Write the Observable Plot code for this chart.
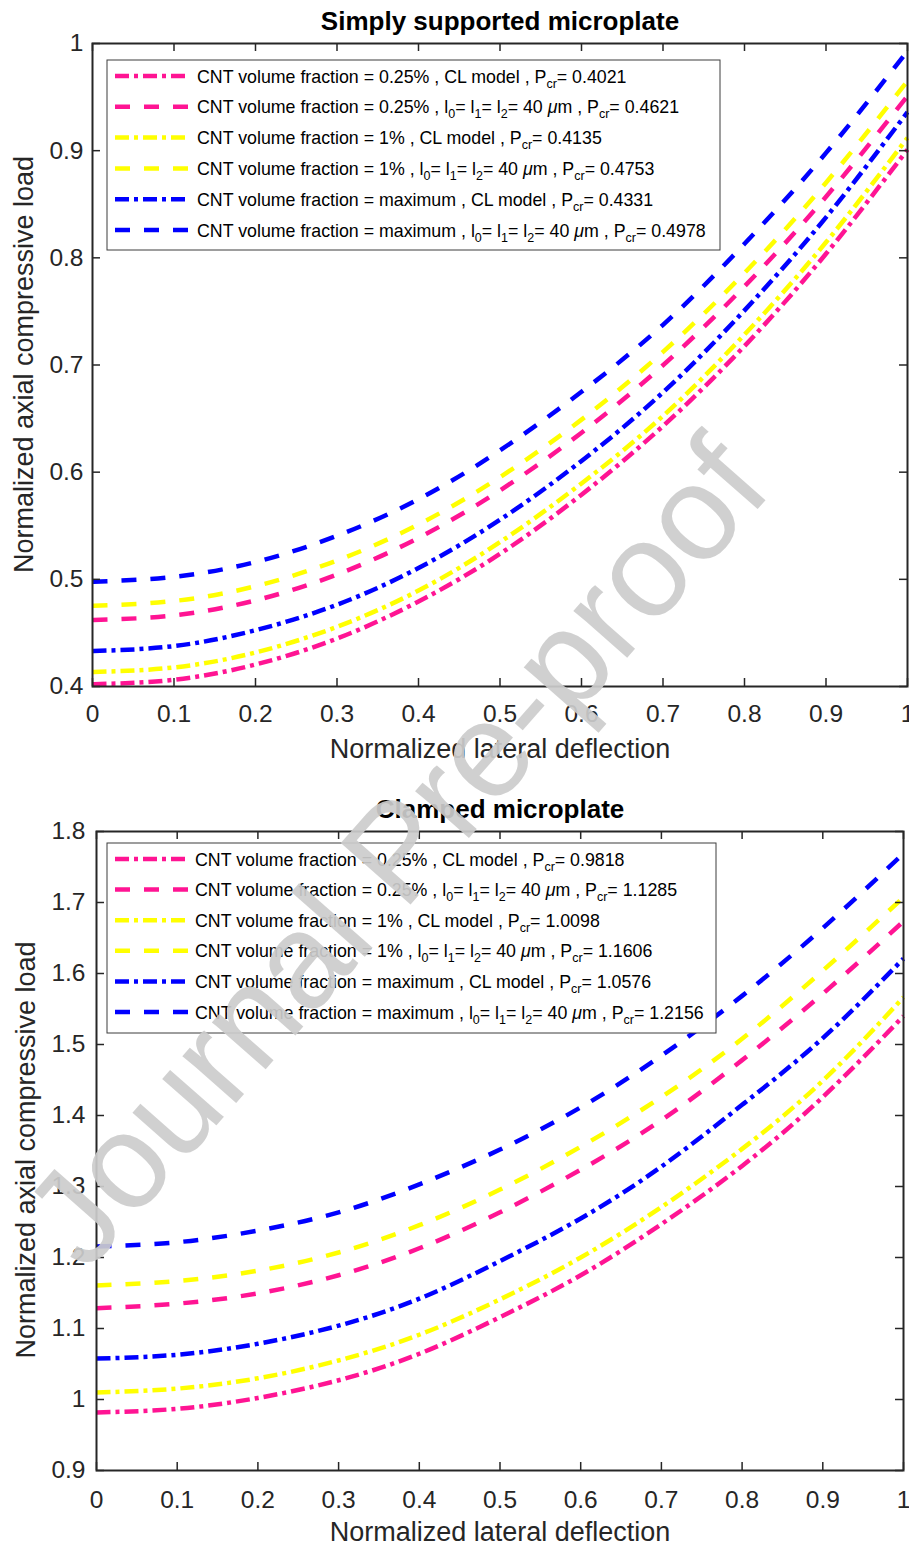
<!DOCTYPE html>
<html><head><meta charset="utf-8">
<script src="https://cdn.jsdelivr.net/npm/d3@7"></script>
<script src="https://cdn.jsdelivr.net/npm/@observablehq/plot@0.6"></script>
<style>
body{margin:0;background:#fff}
#wrap{position:relative;width:909px;height:1546px;overflow:hidden;background:#fff}
.plot{position:absolute;left:0}
#overlay{position:absolute;left:0;top:0}
</style></head><body><div id="wrap"></div>
<script>
// ---------- data ----------
const deflection = [0, 0.1, 0.2, 0.3, 0.4, 0.5, 0.6, 0.7, 0.8, 0.9, 1];
const xTickValues = [0, 0.1, 0.2, 0.3, 0.4, 0.5, 0.6, 0.7, 0.8, 0.9, 1];
const ssYTicks = [0.4, 0.5, 0.6, 0.7, 0.8, 0.9, 1];
const clYTicks = [0.9, 1, 1.1, 1.2, 1.3, 1.4, 1.5, 1.6, 1.7, 1.8];

// Simply supported microplate
const ss_025_CL  = [0.4021, 0.4063, 0.4205, 0.4447, 0.4793, 0.5238, 0.579, 0.643, 0.7177, 0.8038, 0.901];
const ss_025_MCS = [0.4621, 0.4663, 0.4804, 0.5045, 0.5387, 0.583, 0.6368, 0.6998, 0.7734, 0.857, 0.951];
const ss_1_CL    = [0.4135, 0.4178, 0.4317, 0.4557, 0.4895, 0.5347, 0.5895, 0.6525, 0.7284, 0.8145, 0.912];
const ss_1_MCS   = [0.4753, 0.4798, 0.4936, 0.5176, 0.5512, 0.5954, 0.649, 0.7122, 0.7859, 0.8701, 0.965];
const ss_max_CL  = [0.4331, 0.4377, 0.4525, 0.4763, 0.5106, 0.5556, 0.6105, 0.6745, 0.751, 0.8378, 0.936];
const ss_max_MCS = [0.4978, 0.5024, 0.5162, 0.5406, 0.5748, 0.6203, 0.675, 0.7375, 0.8131, 0.8979, 0.993];

// Clamped microplate
const cl_025_CL  = [0.9818, 0.9869, 1.0022, 1.0271, 1.0644, 1.116, 1.175, 1.247, 1.329, 1.426, 1.540];
const cl_025_MCS = [1.1285, 1.135, 1.1495, 1.175, 1.213, 1.2637, 1.3236, 1.3935, 1.478, 1.5715, 1.6735];
const cl_1_CL    = [1.0098, 1.0153, 1.0299, 1.0550, 1.0912, 1.141, 1.200, 1.271, 1.353, 1.449, 1.5665];
const cl_1_MCS   = [1.1606, 1.1668, 1.1814, 1.207, 1.2455, 1.2957, 1.356, 1.426, 1.508, 1.604, 1.7073];
const cl_max_CL  = [1.0576, 1.063, 1.0785, 1.104, 1.142, 1.195, 1.255, 1.328, 1.415, 1.509, 1.621];
const cl_max_MCS = [1.2156, 1.2215, 1.2379, 1.2635, 1.303, 1.352, 1.4115, 1.4843, 1.5685, 1.664, 1.769];

const fractions = ["0.25%", "0.25%", "1%", "1%", "maximum", "maximum"];
const models = ["CL", "MCS", "CL", "MCS", "CL", "MCS"];
const ssPcr = ["0.4021", "0.4621", "0.4135", "0.4753", "0.4331", "0.4978"];
const clPcr = ["0.9818", "1.1285", "1.0098", "1.1606", "1.0576", "1.2156"];
const seriesColors = ["#ff1493", "#ff1493", "#ffff00", "#ffff00", "#0000ff", "#0000ff"];

// ---------- styles ----------
const FONT = '"Liberation Sans", Arial, Helvetica, sans-serif';
const AXIS = "#262626";
const DASH = "15,14";
const DASHDOT = "14,5,4,5";
const LW = 4.5;

function fmt(d) { return String(Math.round(d * 10) / 10); }

function makePlot(cfg) {
  const frameW = cfg.width - cfg.ml - cfg.mr;
  const frameH = cfg.height - cfg.mt - cfg.mb;
  const tk = 8;
  const marks = [];
  cfg.values.forEach((vals, i) => {
    const rows = deflection.map((x, j) => ({x, y: vals[j]}));
    marks.push(Plot.line(rows, {
      x: "x", y: "y", stroke: seriesColors[i], strokeWidth: LW,
      strokeDasharray: models[i] === "CL" ? DASHDOT : DASH,
      curve: "natural", strokeLinecap: "butt", strokeLinejoin: "round"
    }));
  });
  marks.push(Plot.tickX(xTickValues, {x: d => d, insetTop: frameH - tk, stroke: AXIS, strokeWidth: 1.5}));
  marks.push(Plot.tickX(xTickValues, {x: d => d, insetBottom: frameH - tk, stroke: AXIS, strokeWidth: 1.5}));
  marks.push(Plot.tickY(cfg.yTicks, {y: d => d, insetRight: frameW - tk, stroke: AXIS, strokeWidth: 1.5}));
  marks.push(Plot.tickY(cfg.yTicks, {y: d => d, insetLeft: frameW - tk, stroke: AXIS, strokeWidth: 1.5}));
  marks.push(Plot.frame({stroke: AXIS, strokeWidth: 2}));
  marks.push(Plot.axisX({ticks: xTickValues, tickSize: 0, tickPadding: cfg.xPad, tickFormat: fmt, label: null, fill: AXIS}));
  marks.push(Plot.axisY({ticks: cfg.yTicks, tickSize: 0, tickPadding: cfg.yPad, tickFormat: fmt, label: null, fill: AXIS}));
  const svg = Plot.plot({
    width: cfg.width, height: cfg.height,
    marginLeft: cfg.ml, marginRight: cfg.mr, marginTop: cfg.mt, marginBottom: cfg.mb,
    x: {domain: [0, 1]}, y: {domain: cfg.yDomain},
    style: {fontFamily: FONT, fontSize: "24.5px", background: "white", color: AXIS, overflow: "visible"},
    marks
  });
  svg.classList.add("plot");
  svg.style.top = cfg.top + "px";
  return svg;
}

const wrap = document.getElementById("wrap");
wrap.appendChild(makePlot({
  top: 0, width: 909, height: 780, ml: 92, mr: 2, mt: 43, mb: 94,
  yDomain: [0.4, 1], yTicks: ssYTicks, xPad: 18, yPad: 9,
  values: [ss_025_CL, ss_025_MCS, ss_1_CL, ss_1_MCS, ss_max_CL, ss_max_MCS]
}));
wrap.appendChild(makePlot({
  top: 780, width: 909, height: 766, ml: 96, mr: 6, mt: 51, mb: 76,
  yDomain: [0.9, 1.8], yTicks: clYTicks, xPad: 20, yPad: 11,
  values: [cl_025_CL, cl_025_MCS, cl_1_CL, cl_1_MCS, cl_max_CL, cl_max_MCS]
}));

// ---------- overlay: titles, labels, legends, watermark ----------
const NS = "http://www.w3.org/2000/svg";
const ov = document.createElementNS(NS, "svg");
ov.setAttribute("id", "overlay");
ov.setAttribute("width", 909);
ov.setAttribute("height", 1546);
ov.style.fontFamily = FONT;
wrap.appendChild(ov);

function el(tag, attrs, parent) {
  const e = document.createElementNS(NS, tag);
  for (const k in attrs) e.setAttribute(k, attrs[k]);
  (parent || ov).appendChild(e);
  return e;
}
function txt(str, attrs) { const t = el("text", attrs); t.textContent = str; return t; }

// titles
txt("Simply supported microplate", {x: 500, y: 30, "text-anchor": "middle", "font-size": 26, "font-weight": "bold", fill: "#000"});
txt("Clamped microplate", {x: 500, y: 818, "text-anchor": "middle", "font-size": 26, "font-weight": "bold", fill: "#000"});
// axis labels
txt("Normalized lateral deflection", {x: 500, y: 758, "text-anchor": "middle", "font-size": 27, fill: AXIS});
txt("Normalized lateral deflection", {x: 500, y: 1541, "text-anchor": "middle", "font-size": 27, fill: AXIS});
txt("Normalized axial compressive load", {transform: "translate(33,364.5) rotate(-90)", "text-anchor": "middle", "font-size": 27, fill: AXIS});
txt("Normalized axial compressive load", {transform: "translate(35,1150) rotate(-90)", "text-anchor": "middle", "font-size": 27, fill: AXIS});

// legends
function legend(box, rowsY, pcr) {
  el("rect", {x: box.x, y: box.y, width: box.w, height: box.h, fill: "#fff", stroke: "#3c3c3c", "stroke-width": 1});
  rowsY.forEach((ry, i) => {
    el("line", {x1: 115, x2: 188, y1: ry, y2: ry, stroke: seriesColors[i], "stroke-width": LW,
      "stroke-dasharray": models[i] === "CL" ? DASHDOT : DASH});
    const t = el("text", {x: box.tx, y: ry + 6.5, "font-size": 17.8, fill: "#000"});
    const parts = [];
    parts.push(["CNT volume fraction = " + fractions[i] + " , "]);
    if (models[i] === "CL") {
      parts.push(["CL model , P"], ["cr", "sub"], ["= " + pcr[i]]);
    } else {
      parts.push(["l"], ["0", "sub"], ["= l"], ["1", "sub"], ["= l"], ["2", "sub"], ["= 40 "], ["\u03bc", "it"], ["m , P"], ["cr", "sub"], ["= " + pcr[i]]);
    }
    let shifted = false;
    parts.forEach(([s, kind]) => {
      const sp = el("tspan", {}, t);
      sp.textContent = s;
      if (kind === "sub") { sp.setAttribute("dy", 5); sp.setAttribute("font-size", 12.5); shifted = true; }
      else {
        if (shifted) { sp.setAttribute("dy", -5); shifted = false; }
        if (kind === "it") sp.setAttribute("font-style", "italic");
      }
    });
  });
}
legend({x: 107, y: 60, w: 613, h: 190, tx: 197}, [76, 106.8, 137.6, 168.4, 199.2, 230], ssPcr);
legend({x: 107, y: 843, w: 609, h: 190, tx: 195}, [859, 889.6, 920.2, 950.8, 981.4, 1012], clPcr);

// watermark
txt("Journal Pre-proof", {transform: "translate(400,855) rotate(-48.7)", "text-anchor": "middle", dy: "0.3em",
  "font-size": 135, fill: "#cccccc", "fill-opacity": 0.92});
</script></body></html>
